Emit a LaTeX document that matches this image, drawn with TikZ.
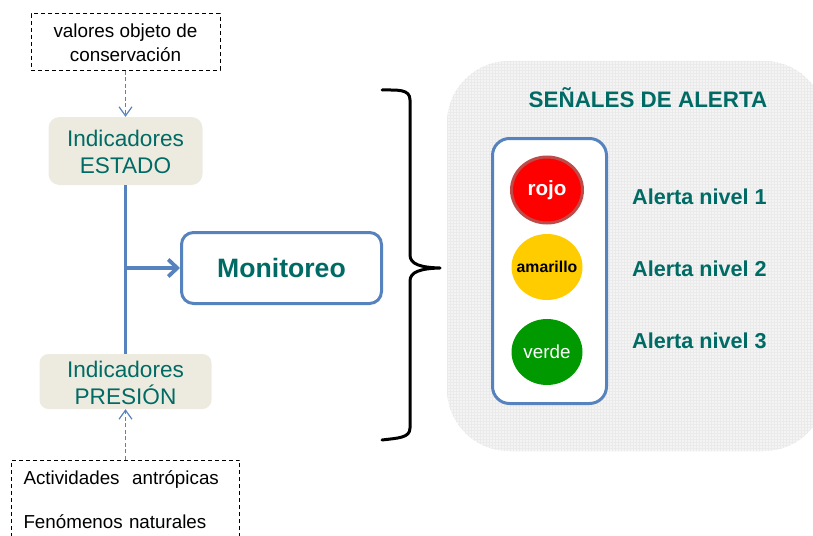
\documentclass[tikz,border=0pt]{standalone}
\usepackage{fontspec}
\setmainfont{Liberation Sans}
\usetikzlibrary{arrows.meta,shapes.geometric,patterns.meta}
\definecolor{teal1}{HTML}{006A64}
\definecolor{beige1}{HTML}{EDEBE0}
\definecolor{blue1}{HTML}{5683BD}
\definecolor{gray1}{HTML}{F4F4F4}
\definecolor{gray2}{HTML}{EAEAEA}
\definecolor{yellow1}{HTML}{FFCC00}
\definecolor{green1}{HTML}{009900}
\definecolor{redb}{HTML}{BE4B48}
\tikzset{
  dashbox/.style={draw=black,line width=1pt,dash pattern=on 4pt off 3pt,align=center,inner sep=0pt,text=black,font=\fontsize{18.9}{24}\selectfont},
  indic/.style={fill=beige1,rounded corners=11pt,align=center,inner sep=0pt,text=teal1,font=\fontsize{22.6}{27}\selectfont},
  blueline/.style={draw=blue1,line width=3.6pt},
  dasharrow/.style={draw=blue1,line width=1.3pt,dash pattern=on 4pt off 2.5pt,-{Straight Barb[length=9pt,width=13pt,line width=1.2pt]}},
  lamp/.style={ellipse,inner sep=-12pt,minimum width=71pt,minimum height=66pt},
  alerta/.style={anchor=west,inner sep=0pt,text=teal1,font=\fontsize{21.6}{25}\selectfont\bfseries},
}
\newcommand{\upstrut}{\rule{0pt}{18.5pt}}
\begin{document}
\begin{tikzpicture}[x=1pt,y=-1pt]
\useasboundingbox (0,0) rectangle (813,535);
\clip (0,0) rectangle (813,535);
% panel
\path[fill=gray1,rounded corners=62pt] (447,61) rectangle (826,451);
\path[rounded corners=62pt,pattern={Lines[angle=0,distance=3pt,line width=0.8pt]},pattern color=gray2] (447,61) rectangle (826,451);
\path[rounded corners=62pt,pattern={Lines[angle=90,distance=3pt,line width=0.8pt]},pattern color=gray2] (447,61) rectangle (826,451);
% boxes
\node[dashbox,minimum width=189pt,minimum height=56pt] (top) at (125.5,42) {\rule{0pt}{15pt}valores objeto de\\conservación};
\node[indic,minimum width=154pt,minimum height=68pt] (est) at (125.5,151) {\upstrut Indicadores\\ESTADO};
\node[indic,minimum width=172pt,minimum height=55pt,rounded corners=9pt] (pres) at (125.5,381.5) {\upstrut Indicadores\\PRESIÓN};
\node[dashbox,minimum width=228pt,minimum height=80pt,text width=204pt,font=\fontsize{18.8}{44}\selectfont,align=left] (bot) at (125.5,500) {Actividades\ \ antrópicas\\Fenómenos naturales};
\node[draw=blue1,line width=3pt,rounded corners=12pt,minimum width=200pt,minimum height=71pt,inner sep=0pt,text=teal1,font=\fontsize{26.6}{30}\selectfont\bfseries] (mon) at (281.5,268) {Monitoreo};
% connectors
\draw[dasharrow] (top.south) -- (est.north);
\draw[dasharrow] (bot.north) -- (pres.south);
\draw[blueline] (est.south) -- (pres.north);
\coordinate (j) at (est.south |- mon.west);
\draw[blueline,-{Straight Barb[length=9pt,width=17pt,line width=3.8pt]}] (j) -- (mon.west);
% brace
\coordinate (bt) at (382,90);
\coordinate (bb) at (382,440);
\coordinate (btip) at (440,268);
\draw[black,line width=3pt,line cap=round,line join=round] (bt) .. controls (398,90) and (410,89) .. (410,100) -- (410,255) .. controls (410,264) and (420,267.5) .. (btip) .. controls (420,268.5) and (410,272) .. (410,281) -- (410,428) .. controls (410,438) and (398,438) .. (bb);
% title
\node[inner sep=0pt,text=teal1,font=\fontsize{22.4}{26}\selectfont\bfseries] (title) at (648,98) {SEÑALES DE ALERTA};
% traffic light
\node[draw=blue1,fill=white,line width=3pt,rounded corners=17pt,minimum width=114pt,minimum height=265pt,inner sep=0pt] (light) at (549.5,271) {};
\node[lamp,fill=red,draw=redb,line width=3pt,text=white,font=\fontsize{20.6}{24}\selectfont\bfseries] (rojo) at (547,190) {rojo};
\node[lamp,fill=yellow1,text=black,font=\fontsize{15.8}{18}\selectfont\bfseries] (amar) at (547,267) {amarillo};
\node[lamp,fill=green1,text=white,font=\fontsize{18.8}{22}\selectfont] (verde) at (547,352) {verde};
\node[alerta] (a1) at (632,196.5) {Alerta nivel 1};
\node[alerta] (a2) at (632,268.5) {Alerta nivel 2};
\node[alerta] (a3) at (632,340.5) {Alerta nivel 3};
\end{tikzpicture}
\end{document}
